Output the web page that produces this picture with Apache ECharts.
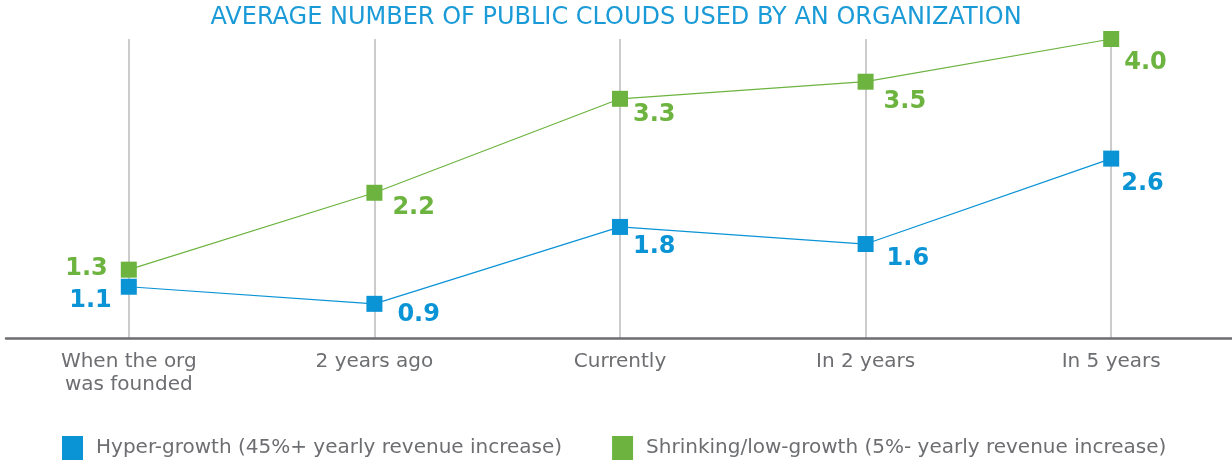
<!DOCTYPE html>
<html>
<head>
<meta charset="utf-8">
<script src="https://cdn.jsdelivr.net/npm/echarts@6/dist/echarts.min.js"></script>
<style>
  html, body { margin: 0; padding: 0; background: #fff; }
  #main { width: 1232px; height: 464px; }
</style>
</head>
<body>
<div id="main"></div>
<script>
// categories and values
var categories = ['When the org\nwas founded', '2 years ago', 'Currently', 'In 2 years', 'In 5 years'];
var hyperGrowth = [1.1, 0.9, 1.8, 1.6, 2.6];
var lowGrowth = [1.3, 2.2, 3.3, 3.5, 4.0];
var seriesNames = ['Hyper-growth (45%+ yearly revenue increase)', 'Shrinking/low-growth (5%- yearly revenue increase)'];

var BLUE = '#0a93d5';
var GREEN = '#6cb33f';
var FONT = 'DejaVu Sans';

// label placement per point (style only)
var blueLabelPos = [
    { position: 'left', offset: [-4, 14] },
    { position: 'right', offset: [10, 11] },
    { position: 'right', offset: [0, 20] },
    { position: 'right', offset: [8, 15] },
    { position: 'right', offset: [-3, 25] }
];
var greenLabelPos = [
    { position: 'left', offset: [-8, -1] },
    { position: 'right', offset: [5, 15] },
    { position: 'right', offset: [0, 16] },
    { position: 'right', offset: [5, 20] },
    { position: 'right', offset: [0, 24] }
];

function withLabels(values, pos) {
    var out = [];
    for (var i = 0; i < values.length; i++) {
        out.push({ value: values[i], label: pos[i] });
    }
    return out;
}

var myChart = echarts.init(document.getElementById('main'));
var option = {
    animation: false,
    backgroundColor: '#fff',
    title: {
        text: 'AVERAGE NUMBER OF PUBLIC CLOUDS USED BY AN ORGANIZATION',
        left: 'center',
        top: 1,
        textStyle: { color: '#1a9bd7', fontSize: 24, fontWeight: 'normal', fontFamily: FONT }
    },
    legend: {
        left: 57,
        top: 431,
        itemWidth: 21,
        itemHeight: 24,
        itemGap: 50,
        icon: 'rect',
        textStyle: { color: '#6d6e71', fontSize: 20, fontFamily: FONT, padding: [0, 0, 0, 8] },
        data: seriesNames
    },
    grid: {
        left: 6,
        right: -2,
        top: 39,
        bottom: 126,
        outerBoundsMode: 'none'
    },
    xAxis: {
        type: 'category',
        data: categories,
        axisLine: { lineStyle: { color: '#6d6e71', width: 2.5 } },
        axisTick: { show: false },
        axisLabel: { color: '#6d6e71', fontSize: 20, fontFamily: FONT, margin: 12, lineHeight: 23 },
        splitLine: { show: true, alignWithLabel: true, lineStyle: { color: '#cccccc', width: 2 } }
    },
    yAxis: {
        type: 'value',
        min: 0.5,
        max: 4.0,
        show: false,
        splitLine: { show: false }
    },
    series: [
        {
            name: seriesNames[0],
            type: 'line',
            data: withLabels(hyperGrowth, blueLabelPos),
            color: BLUE,
            symbol: 'rect',
            symbolSize: 16,
            lineStyle: { width: 1.2, color: BLUE },
            itemStyle: { color: BLUE },
            label: {
                show: true,
                color: BLUE,
                fontSize: 24,
                fontWeight: 'bold',
                fontFamily: FONT,
                formatter: function (p) { return p.value.toFixed(1); }
            }
        },
        {
            name: seriesNames[1],
            type: 'line',
            data: withLabels(lowGrowth, greenLabelPos),
            color: GREEN,
            symbol: 'rect',
            symbolSize: 16,
            lineStyle: { width: 1.2, color: GREEN },
            itemStyle: { color: GREEN },
            label: {
                show: true,
                color: GREEN,
                fontSize: 24,
                fontWeight: 'bold',
                fontFamily: FONT,
                formatter: function (p) { return p.value.toFixed(1); }
            }
        }
    ]
};
myChart.setOption(option);
</script>
</body>
</html>
